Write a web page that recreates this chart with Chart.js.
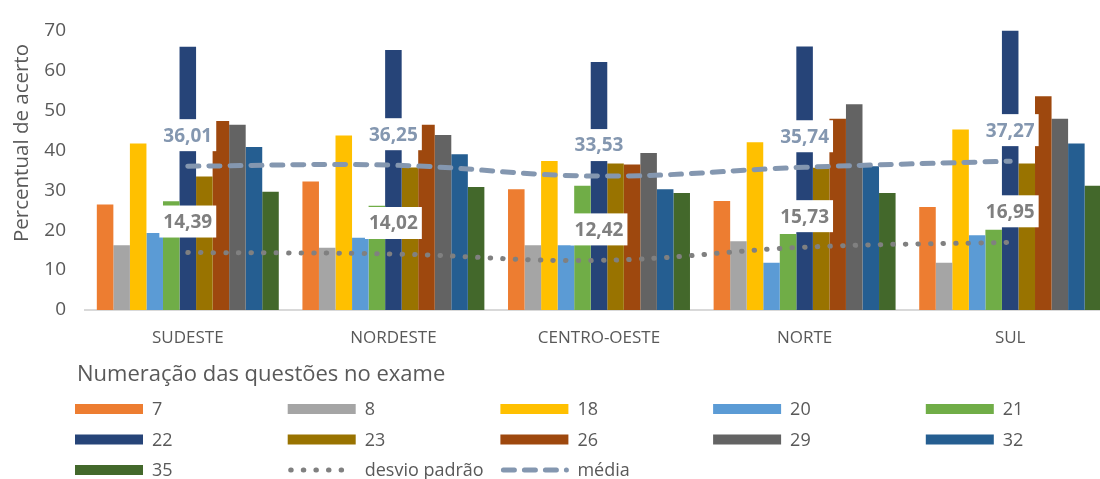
<!DOCTYPE html>
<html>
<head>
<meta charset="utf-8">
<script src="https://cdn.jsdelivr.net/npm/chart.js@4/dist/chart.umd.min.js"></script>
<style>
html,body{margin:0;padding:0;background:#fff;overflow:hidden}
#wrap{width:1100px;height:479px;overflow:hidden;position:relative}
#wrap canvas{position:absolute;left:0;top:0}
</style>
</head>
<body>
<div id="wrap"><canvas id="grafico" width="1113" height="479" style="width:1113px;height:479px"></canvas></div>
<script>
// regiões no eixo x
const regioes = ["SUDESTE","NORDESTE","CENTRO-OESTE","NORTE","SUL"]

// numero das questoes (legenda)
const questoes = ["7","8","18","20","21","22","23","26","29","32","35"]

// percentual de acerto por questão, na ordem das regiões
const q7 = [26.4,32.2,30.2,27.3,25.8]
const q8 = [16.2,15.6,16.2,17.2,11.8]
const q18 = [41.7,43.7,37.3,42.0,45.2]
const q20 = [19.3,18.1,16.2,11.8,18.7]
const q21 = [27.2,26.1,31.1,19.0,20.1]
const q22 = [65.9,65.1,62.1,66.0,70.0]
const q23 = [33.4,35.7,36.7,35.6,36.7]
const q26 = [47.3,46.4,36.4,47.9,53.5]
const q29 = [46.4,43.8,39.3,51.5,47.9]
const q32 = [40.8,39.0,30.2,36.0,41.7]
const q35 = [29.6,30.8,29.3,29.3,31.1]

const desvio = [14.39,14.02,12.42,15.73,16.95]
const media = [36.01,36.25,33.53,35.74,37.27]

const valores = [q7,q8,q18,q20,q21,q22,q23,q26,q29,q32,q35]
const cores = ["#ED7D31","#A5A5A5","#FFC000","#5B9BD5","#70AD47","#264478","#997300","#9E480E","#636363","#255E91","#43682B"]

const tituloY = "Percentual de acerto"
const tituloLegenda = "Numeração das questões no exame"

const fonte = "'Open Sans', sans-serif"
const cinza = "#595959"

let datasets = []

for(let i=0;i<questoes.length;i++){
datasets.push({
label:questoes[i],
data:valores[i],
backgroundColor:cores[i],
borderWidth:0,
categoryPercentage:0.885,
barPercentage:1
})
}

datasets.push({
type:"line",
label:"desvio padrão",
data:desvio,
borderColor:"#808080",
borderWidth:5,
borderDash:[0.5,12.1],
borderCapStyle:"round",
pointRadius:0,
tension:0.4,
order:-1,
rotuloCor:"#7F7F7F"
})

datasets.push({
type:"line",
label:"média",
data:media,
borderColor:"#8497B0",
borderWidth:5,
borderDash:[11,10],
borderCapStyle:"round",
pointRadius:0,
tension:0.4,
order:-1,
rotuloCor:"#8497B0"
})

// rótulos com caixa branca sobre as linhas
const rotulos = {
id:"rotulos",
afterDatasetsDraw(chart){
const c = chart.ctx
c.save()
chart.data.datasets.forEach(function(ds,i){
if(ds.type !== "line") return
const meta = chart.getDatasetMeta(i)
meta.data.forEach(function(pt,j){
let txt = ds.data[j].toFixed(2).replace(".",",")
c.font = "bold 19px " + fonte
let w = c.measureText(txt).width
let x = pt.x
let y = pt.y - 31
c.fillStyle = "#fff"
c.fillRect(x - w/2 - 4, y - 16, w + 8, 32)
c.fillStyle = ds.rotuloCor
c.textAlign = "center"
c.textBaseline = "middle"
c.fillText(txt, x, y + 1)
})
})
c.restore()
}
}

// titulo do eixo y e legenda em grade
const extras = {
id:"extras",
afterDraw(chart){
const c = chart.ctx
c.save()
c.fillStyle = cinza
c.font = "20.5px " + fonte
c.textAlign = "center"
c.textBaseline = "middle"
c.translate(22,143)
c.rotate(-Math.PI/2)
c.fillText(tituloY,0,0)
c.restore()

c.save()
c.fillStyle = cinza
c.font = "22px " + fonte
c.textBaseline = "middle"
c.fillText(tituloLegenda,77,375)
c.font = "18px " + fonte
chart.data.datasets.forEach(function(ds,i){
let col = i % 5
let row = Math.floor(i / 5)
let x = 75 + col*212.7
let y = 409 + row*30.5
if(ds.type === "line"){
c.beginPath()
c.strokeStyle = ds.borderColor
c.lineWidth = ds.borderWidth
c.lineCap = "round"
c.setLineDash(ds.borderDash)
c.moveTo(x + 3, y)
c.lineTo(x + 66, y)
c.stroke()
c.setLineDash([])
}else{
c.fillStyle = ds.backgroundColor
c.fillRect(x, y - 5, 68, 10)
}
c.fillStyle = cinza
c.fillText(ds.label, x + 77, y + 1)
})
c.restore()
}
}

Chart.defaults.font.family = fonte

new Chart(document.getElementById("grafico"),{
type:"bar",
data:{
labels:regioes,
datasets:datasets
},
options:{
responsive:false,
animation:false,
layout:{padding:{top:18,right:0,bottom:129,left:0}},
plugins:{
legend:{display:false},
tooltip:{enabled:false}
},
scales:{
x:{
grid:{display:false,drawTicks:false},
border:{display:true,color:"#D9D9D9",width:2},
ticks:{color:cinza,font:{size:17},padding:18},
afterFit(s){ s.height = 40 }
},
y:{
min:0,
max:70,
grid:{display:false,drawTicks:false},
border:{display:false},
ticks:{stepSize:10,color:cinza,font:{size:19},padding:19},
afterFit(s){ s.width = 85 }
}
}
},
plugins:[rotulos,extras]
})
</script>
</body>
</html>
